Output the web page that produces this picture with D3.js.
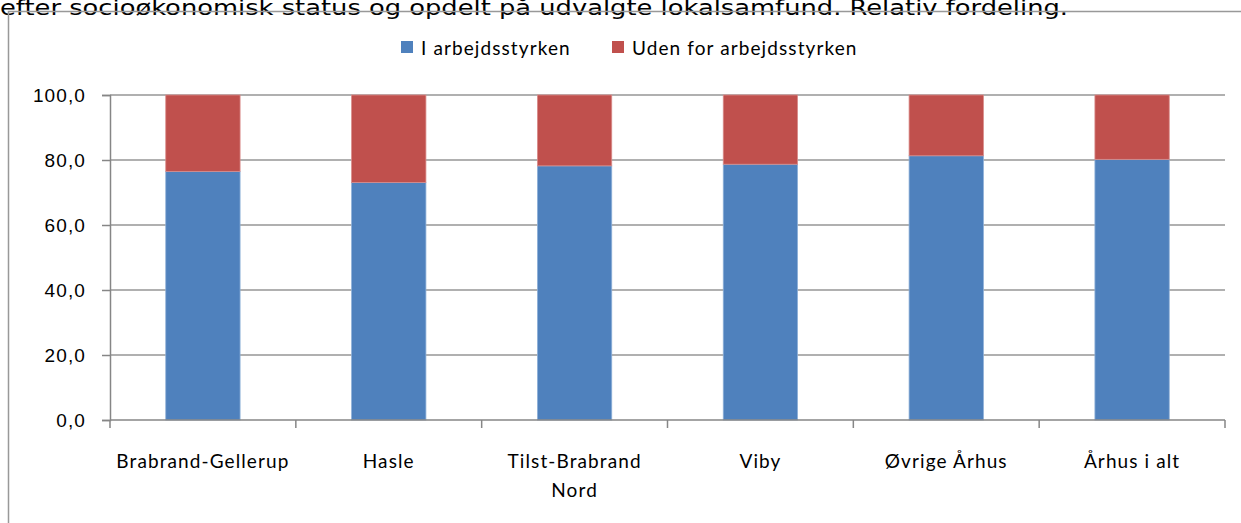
<!DOCTYPE html>
<meta charset="utf-8">
<style>
body { margin: 0; background: #fff; }
svg { display: block; font-family: Lato, "Open Sans", sans-serif; }
.title { font-family: "DejaVu Sans", Verdana, sans-serif; font-size: 21px; fill: #000; }
.lbl { font-size: 19px; fill: #000; letter-spacing: 1.1px; }
</style>
<script src="https://d3js.org/d3.v7.min.js"></script>
<svg width="1241" height="523"></svg>
<script>
var categories = ["Brabrand-Gellerup", "Hasle", "Tilst-Brabrand\nNord", "Viby", "Øvrige Århus", "Århus i alt"];
var iArbejde = [76.5, 73.1, 78.2, 78.7, 81.3, 80.2];
var udenFor = [23.5, 26.9, 21.8, 21.3, 18.7, 19.8];
var seriesNames = ["I arbejdsstyrken", "Uden for arbejdsstyrken"];
var colors = ["#4F81BD", "#C0504D"];
var yTicks = [0, 20, 40, 60, 80, 100];

var svg = d3.select("svg");

// title line, cut off at the top as in the source
svg.append("text")
    .attr("class", "title")
    .attr("x", 0)
    .attr("y", 15)
    .attr("textLength", 1068)
    .attr("lengthAdjust", "spacingAndGlyphs")
    .text("efter socioøkonomisk status og opdelt på udvalgte lokalsamfund. Relativ fordeling.");

// chart frame
svg.append("path")
    .attr("d", "M8.5,540V11.5H1260")
    .attr("fill", "none")
    .attr("stroke", "#999")
    .attr("stroke-width", 1.5);

var margin = {left: 110, right: 1225, top: 95, bottom: 420};

var x = d3.scaleBand()
    .domain(d3.range(categories.length))
    .range([margin.left, margin.right])
    .paddingInner(0.6)
    .paddingOuter(0.3);

var xb = d3.scaleLinear()
    .domain([0, categories.length])
    .range([margin.left, margin.right]);

var y = d3.scaleLinear()
    .domain([0, 100])
    .range([margin.bottom, margin.top]);

// gridlines
svg.append("g")
    .selectAll("line")
    .data(yTicks.slice(1))
    .enter().append("line")
    .attr("x1", margin.left).attr("x2", margin.right)
    .attr("y1", function(d) { return y(d); })
    .attr("y2", function(d) { return y(d); })
    .attr("stroke", "#969696")
    .attr("stroke-width", 1.5);

// y axis
var yAxis = svg.append("g")
    .attr("transform", "translate(" + margin.left + ",0)")
    .call(d3.axisLeft(y).tickValues(yTicks).tickSize(8).tickPadding(16)
      .tickFormat(function(d) { return d3.format(".1f")(d).replace(".", ","); }));
yAxis.select(".domain").attr("stroke", "#868686").attr("stroke-width", 1.5);
yAxis.selectAll(".tick line").attr("stroke", "#868686").attr("stroke-width", 1.5);
yAxis.selectAll("text").attr("class", "lbl").attr("font-family", null).attr("font-size", null).attr("fill", null);

// bars
var stacks = [iArbejde, udenFor];
stacks.forEach(function(vals, s) {
  svg.append("g")
    .selectAll("rect")
    .data(vals)
    .enter().append("rect")
      .attr("x", function(d, i) { return x(i); })
      .attr("width", x.bandwidth())
      .attr("y", function(d, i) {
        var base = s === 0 ? 0 : iArbejde[i];
        return y(base + d);
      })
      .attr("height", function(d) { return y(0) - y(d); })
      .attr("fill", colors[s])
      .attr("stroke", s === 0 ? "#8eb0d8" : "#d98c8a")
      .attr("stroke-width", 0.8);
});

// x axis
svg.append("line")
    .attr("x1", margin.left).attr("x2", margin.right)
    .attr("y1", margin.bottom).attr("y2", margin.bottom)
    .attr("stroke", "#868686").attr("stroke-width", 1.5);
svg.append("g")
    .selectAll("line")
    .data(d3.range(categories.length + 1))
    .enter().append("line")
    .attr("x1", function(d) { return xb(d); })
    .attr("x2", function(d) { return xb(d); })
    .attr("y1", margin.bottom).attr("y2", margin.bottom + 8)
    .attr("stroke", "#868686").attr("stroke-width", 1.5);

var xl = svg.append("g")
    .selectAll("text")
    .data(categories)
    .enter().append("text")
    .attr("class", "lbl")
    .attr("text-anchor", "middle")
    .attr("transform", function(d, i) { return "translate(" + (x(i) + x.bandwidth() / 2) + "," + 468 + ")"; });
xl.selectAll("tspan")
    .data(function(d) { return d.split("\n"); })
    .enter().append("tspan")
    .attr("x", 0)
    .attr("y", function(d, i) { return i * 29; })
    .text(function(d) { return d; });

// legend
var legX = [401, 612];
seriesNames.forEach(function(n, i) {
  svg.append("rect")
    .attr("x", legX[i]).attr("y", 41)
    .attr("width", 12).attr("height", 12)
    .attr("fill", colors[i]);
  svg.append("text")
    .attr("class", "lbl")
    .attr("x", legX[i] + 20).attr("y", 55)
    .text(n);
});
</script>
